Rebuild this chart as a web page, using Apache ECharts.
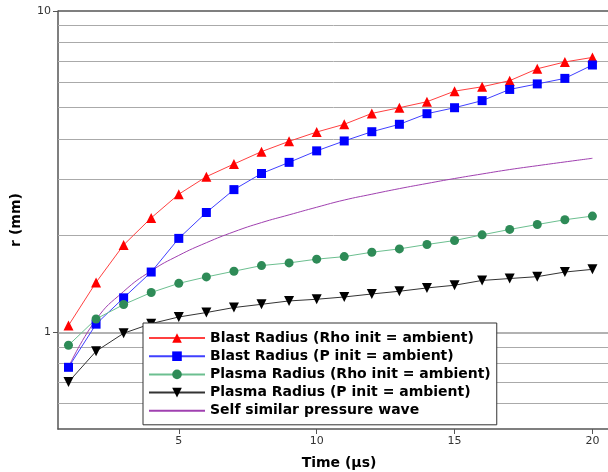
<!DOCTYPE html>
<html>
<head>
<meta charset="utf-8">
<script src="https://cdn.jsdelivr.net/npm/echarts@6/dist/echarts.min.js"></script>
<style>
html,body{margin:0;padding:0;background:#fff;}
#chart{width:608px;height:472px;}
</style>
</head>
<body>
<div id="chart"></div>
<script>
const times = [1,2,3,4,5,6,7,8,9,10,11,12,13,14,15,16,17,18,19,20];
const blastRho = [1.05,1.43,1.87,2.27,2.69,3.05,3.34,3.65,3.93,4.20,4.44,4.80,5.00,5.22,5.63,5.81,6.07,6.61,6.94,7.17];
const blastP   = [0.778,1.06,1.28,1.54,1.96,2.36,2.78,3.12,3.38,3.67,3.94,4.21,4.44,4.79,5.00,5.26,5.70,5.93,6.17,6.79];
const plasmaRho= [0.911,1.10,1.22,1.33,1.42,1.487,1.549,1.613,1.644,1.689,1.72,1.775,1.818,1.876,1.93,2.01,2.09,2.165,2.24,2.30];
const plasmaP  = [0.70,0.873,0.993,1.064,1.116,1.152,1.194,1.222,1.252,1.267,1.288,1.316,1.342,1.374,1.401,1.45,1.47,1.49,1.54,1.57];
const selfSim  = [0.778,1.095,1.34,1.553,1.735,1.90,2.055,2.195,2.32,2.45,2.58,2.69,2.80,2.905,3.01,3.11,3.21,3.30,3.39,3.48];
const names = ['Blast Radius (Rho init = ambient)','Blast Radius (P init = ambient)','Plasma Radius (Rho init = ambient)','Plasma Radius (P init = ambient)','Self similar pressure wave'];
const yTicks = [1, 10];
const xTicks = [5, 10, 15, 20];
const gridValues = [0.6,0.7,0.8,0.9,1,2,3,4,5,6,7,8,9,10];

const pair = arr => times.map((t,i)=>[t, arr[i]]);
const chart = echarts.init(document.getElementById('chart'), null, {renderer:'canvas'});
const FONT = 'DejaVu Sans';
chart.setOption({
  animation:false,
  backgroundColor:'#fff',
  grid:{left:58, right:-12, top:11, bottom:43, containLabel:false, outerBoundsMode:'none'},
  xAxis:{
    type:'value', min:0.62, max:21,
    name:'Time (μs)', nameLocation:'middle', nameGap:27,
    nameTextStyle:{fontFamily:FONT, fontWeight:'bold', fontSize:14, color:'#000'},
    axisLine:{lineStyle:{color:'#555', width:1.5}},
    axisTick:{show:true, length:5, lineStyle:{color:'#555'}, customValues:xTicks},
    axisLabel:{fontFamily:FONT, fontSize:11, color:'#333', margin:7, customValues:xTicks},
    splitLine:{show:false}
  },
  yAxis:{
    type:'log', logBase:10, min:0.5, max:10,
    name:'r (mm)', nameLocation:'middle', nameGap:35,
    nameTextStyle:{fontFamily:FONT, fontWeight:'bold', fontSize:14, color:'#000'},
    axisLine:{lineStyle:{color:'#555', width:1.5}},
    axisTick:{show:true, length:5, lineStyle:{color:'#555'}, customValues:yTicks},
    axisLabel:{fontFamily:FONT, fontSize:11, color:'#333', margin:7, customValues:yTicks},
    splitLine:{show:false}
  },
  legend:{
    z:20,
    data:names.map((n,i)=> i===4 ? {name:n, itemStyle:{opacity:0}} : {name:n}),
    orient:'vertical', left:143, top:323,
    backgroundColor:'#fff', borderColor:'#333', borderWidth:1,
    padding:[7,6,6,5], itemWidth:56, itemHeight:12, itemGap:2.2,
    textStyle:{fontFamily:FONT, fontWeight:'bold', fontSize:14, lineHeight:16, color:'#000'}
  },
  series:[
    {name:'grid', type:'line', data:[], silent:true, z:1,
     markLine:{silent:true, z:1, symbol:['none','none'], label:{show:false}, animation:false,
       data:gridValues.map(v=>({yAxis:v, lineStyle:{color: v===10 ? '#555' : (v===1 ? '#999' : '#aaa'), width: v===10 ? 1.5 : (v===1 ? 1.5 : 1), type:'solid'}}))}},
    {name:names[4], type:'line', data:pair(selfSim), smooth:true, showSymbol:false, symbol:'none', z:3,
     lineStyle:{color:'#a040b0', width:1}, itemStyle:{color:'#a040b0'}},
    {name:names[0], type:'line', data:pair(blastRho), symbol:'triangle', symbolSize:10, z:4,
     lineStyle:{color:'#ff4040', width:1}, itemStyle:{color:'#ff0000'}},
    {name:names[1], type:'line', data:pair(blastP), symbol:'rect', symbolSize:9, z:4,
     lineStyle:{color:'#4040ff', width:1}, itemStyle:{color:'#0000ff'}},
    {name:names[2], type:'line', data:pair(plasmaRho), symbol:'circle', symbolSize:9, z:4,
     lineStyle:{color:'#6cbf90', width:1}, itemStyle:{color:'#2e8b57'}},
    {name:names[3], type:'line', data:pair(plasmaP), symbol:'triangle', symbolRotate:180, symbolSize:10, z:4,
     lineStyle:{color:'#333', width:1}, itemStyle:{color:'#000'}}
  ]
});
</script>
</body>
</html>
